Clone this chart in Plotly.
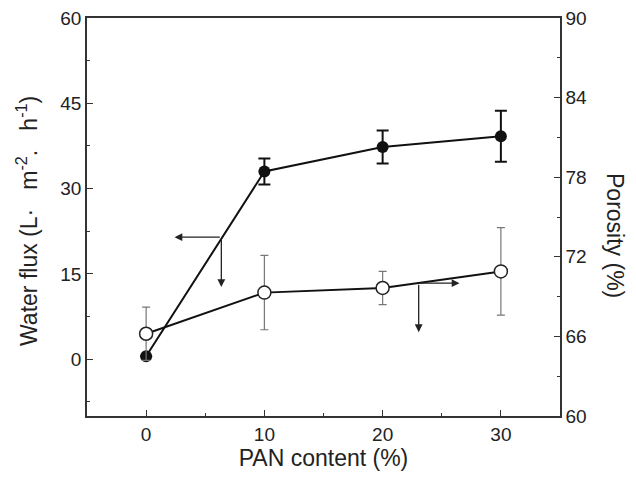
import plotly.graph_objects as go

pan = [0, 10, 20, 30]
flux = [0.5, 33.0, 37.3, 39.2]
flux_err = [0.0, 2.3, 2.9, 4.5]
porosity = [66.2, 69.3, 69.65, 70.9]
porosity_err = [2.0, 2.8, 1.25, 3.3]

fig = go.Figure()
fig.add_trace(go.Scatter(
    x=pan, y=porosity, yaxis="y2", mode="lines+markers",
    line=dict(color="#111", width=2),
    marker=dict(symbol="circle", size=13, color="white", line=dict(color="#222", width=1.5)),
    error_y=dict(type="data", array=porosity_err, visible=True, color="#777", thickness=1.2, width=4),
    showlegend=False))
fig.add_trace(go.Scatter(
    x=pan, y=flux, mode="lines+markers",
    line=dict(color="#111", width=2),
    marker=dict(symbol="circle", size=12, color="#111"),
    error_y=dict(type="data", array=flux_err, visible=True, color="#111", thickness=2, width=6),
    showlegend=False))

font = "Liberation Sans, Arial"
axfont = dict(family=font, size=19, color="#222")
common = dict(ticks="inside", ticklen=6, tickwidth=1.2, tickcolor="#333", showline=True,
              linecolor="#333", linewidth=1.5, showgrid=False, zeroline=False, automargin=False,
              tickfont=axfont)
fig.update_layout(
    width=636, height=482,
    margin=dict(l=87, r=76, t=18, b=66),
    paper_bgcolor="white", plot_bgcolor="white",
    font=axfont,
    xaxis=dict(range=[-5, 35], tickvals=[0, 10, 20, 30], mirror=True,
               minor=dict(dtick=5, tick0=0, ticks="inside", ticklen=3, tickcolor="#333", showgrid=False),
               title=dict(text="PAN content (%)", font=dict(family=font, size=23, color="#222"), standoff=4),
               **common),
    yaxis=dict(range=[-10, 60], tickvals=[0, 15, 30, 45, 60],
               minor=dict(dtick=7.5, tick0=0, ticks="inside", ticklen=3, tickcolor="#333", showgrid=False),
               **common),
    yaxis2=dict(range=[60, 90], tickvals=[60, 66, 72, 78, 84, 90], overlaying="y", side="right",
                minor=dict(dtick=3, tick0=60, ticks="inside", ticklen=3, tickcolor="#333", showgrid=False),
                **common),
)

gap = "\u00a0\u00a0\u00a0"
fig.add_annotation(text=f"Water flux (L·{gap}m<sup>-2</sup>.{gap}h<sup>-1</sup>)", xref="paper", yref="paper",
                   x=0, y=0.5, xanchor="center", yanchor="middle", xshift=-60, yshift=-4, textangle=-90,
                   showarrow=False, font=dict(family=font, size=23, color="#222"))
fig.add_annotation(text="Porosity (%)", xref="paper", yref="paper",
                   x=1, y=0.5, xanchor="center", yanchor="middle", xshift=55, yshift=-18, textangle=90,
                   showarrow=False, font=dict(family=font, size=23, color="#222"))

arrow = dict(xref="x", yref="y", axref="x", ayref="y", text="", showarrow=True,
             arrowhead=2, arrowsize=1.2, arrowwidth=1.3, arrowcolor="#222")
# arrow pointing to the left axis
fig.add_annotation(x=2.4, y=21.45, ax=6.36, ay=21.45, **arrow)
fig.add_annotation(x=6.36, y=12.7, ax=6.36, ay=21.45, **arrow)
# arrow pointing to the right axis
fig.add_annotation(x=26.5, y=13.36, ax=23.05, ay=13.36, **arrow)
fig.add_annotation(x=23.05, y=4.75, ax=23.05, ay=13.36, **arrow)

fig.write_html("out.html")
